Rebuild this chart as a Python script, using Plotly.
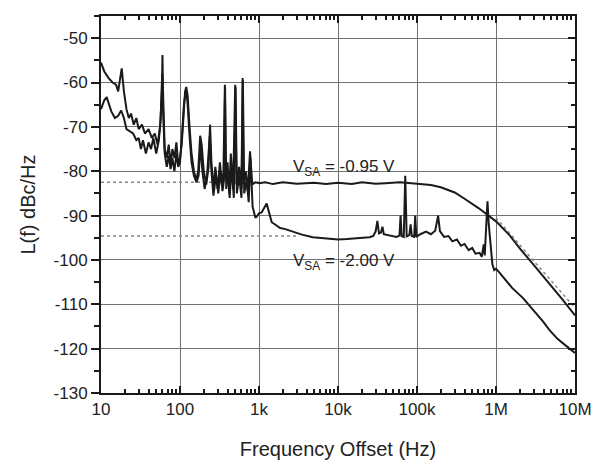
import plotly.graph_objects as go

# ---- data ----
f_a = [10, 11, 12.5, 14, 15.5, 16.5, 17.5, 18.3, 19.5, 21, 22.5, 24, 26, 28, 30, 33, 36, 40, 44, 48,
       52, 56, 59, 60, 61, 64, 68, 72, 76, 80, 85, 90, 95, 100, 105, 110, 116, 120, 125, 132,
       140, 150, 160, 170, 180, 188, 200, 215, 230, 240, 250, 265, 280, 300, 320, 340, 355, 370, 380, 400,
       420, 440, 470, 500, 520, 560, 600, 620, 640, 680, 720, 770, 820, 900, 1000,
       1200, 1500, 2000, 3000, 5000, 7000, 1e4, 1.5e4, 2e4, 3e4, 4e4, 6e4, 7.2e4, 1e5,
       1.5e5, 2e5, 3e5, 4e5, 5e5, 6e5, 7e5, 8e5, 9e5, 1e6, 1.5e6, 2e6, 3e6, 5e6, 7e6, 1e7]
L_a = [-55.5, -57.5, -59, -60, -60.5, -62, -59, -56.8, -62, -66, -68, -67, -69.5, -68, -70.5, -69.5, -71.5, -70.5, -72.5, -71.5,
       -74, -70, -62, -53.8, -62, -75, -77, -74, -78.5, -75, -77, -73.5, -78.5, -77, -74, -69, -62, -61, -63, -70,
       -76, -80, -82, -80, -72, -74, -80, -83, -79, -69.5, -78, -84, -79, -84, -78, -83, -80, -60.5, -82, -78,
       -85, -76, -84, -60.5, -83, -79, -84, -59, -83, -80, -84.5, -75.5, -83, -82.5, -82.7,
       -82.5, -82.9, -82.5, -82.8, -82.6, -82.9, -82.6, -82.9, -82.5, -82.8, -82.7, -82.5, -82.6, -82.8,
       -83.1, -83.6, -84.8, -86.2, -87.3, -88.3, -89.2, -90.0, -90.6, -91.3, -94.5, -97.4, -101.1, -105.8, -109.0, -112.5]

f_b = [10, 11, 11.8, 12.5, 13.5, 15, 16.5, 18, 19.5, 21, 23, 25.5, 28, 30, 32, 34, 37, 40, 43, 46,
       50, 54, 57, 59.5, 61, 64, 68, 72, 76, 80, 85, 90, 95, 100, 106, 112, 118, 124, 132, 140,
       150, 162, 172, 182, 192, 205, 220, 238, 250, 265, 285, 305, 325, 345, 360, 372, 385, 405, 425, 450,
       480, 505, 525, 560, 600, 625, 650, 700, 740, 780, 830, 900, 960, 1000, 1080, 1180, 1250, 1350, 1450, 1600,
       1850, 2100, 2450, 2900, 3500, 4800, 6000, 7900, 1e4, 1.3e4, 1.7e4, 2e4, 2.5e4, 2.8e4, 3e4, 3.15e4, 3.3e4, 3.5e4,
       3.65e4, 3.8e4, 4.5e4, 5.5e4, 6e4, 6.2e4, 6.4e4, 6.8e4, 7.1e4, 7.4e4, 8e4, 8.3e4, 8.6e4, 9.2e4, 9.5e4, 9.8e4,
       1.1e5, 1.3e5, 1.5e5, 1.7e5, 1.85e5, 1.95e5, 2.2e5, 2.5e5, 2.8e5, 3.2e5, 3.6e5, 4e5, 4.5e5, 5e5, 5.5e5, 6.2e5,
       6.6e5, 7e5, 7.2e5, 7.5e5, 7.8e5, 8.1e5, 8.5e5, 9e5, 9.5e5, 1e6, 1.1e6, 1.3e6, 1.6e6, 2.2e6, 3e6, 4e6, 4.7e6,
       6e6, 8e6, 1e7]
L_b = [-66, -64, -63.3, -64.5, -66.5, -68, -67.5, -66.3, -68, -70.5, -71, -71.5, -73, -72.5, -75, -73, -76, -73.5, -75, -72.5,
       -76, -73, -68, -58, -66, -76, -79, -76.5, -79.5, -77, -80, -76, -79, -78, -72, -65, -62, -64, -72, -78,
       -81, -82.5, -81, -74, -80, -84, -81, -72, -80, -85.5, -81, -85, -80, -84.5, -82, -61, -84, -80, -86, -79,
       -86, -61, -85, -81, -86, -59.5, -85, -82, -87, -77, -88, -90.5, -90, -89.5, -89.3, -88, -87.3, -89.5, -91.5, -92,
       -92.8, -93, -93.4, -93.8, -94.3, -94.9, -95.1, -95.2, -95.4, -95.3, -95.2, -95.1, -94.9, -94.6, -93.5, -91.2, -94, -93.8,
       -92.5, -94.2, -94.5, -94.8, -94.5, -90, -94.6, -94.8, -81, -94.7, -94.4, -92, -94.6, -94.8, -90, -94.8,
       -94.2, -93.6, -94.2, -93.4, -90, -93.5, -94.8, -94.6, -95.8, -95.4, -96.8, -96.4, -97.8, -97.3, -98.6, -98.4,
       -99.3, -96.5, -99, -93, -86.8, -92, -97, -101, -102.3, -102, -102.8, -104.3, -106.3, -108.6, -111.3, -114, -115.7,
       -117.8, -119.6, -121]

# dotted reference lines
ref_a_f = [10, 1000]
ref_a_L = [-82.5, -82.5]
ref_b_f = [10, 3000]
ref_b_L = [-94.6, -94.6]
ref_slope_f = [1e6, 1e7]
ref_slope_L = [-90.5, -110.8]

x_tickvals = [10, 100, 1e3, 1e4, 1e5, 1e6, 1e7]
x_ticktext = ["10", "100", "1k", "10k", "100k", "1M", "10M"]
y_tickvals = [-130, -120, -110, -100, -90, -80, -70, -60, -50]
y_ticktext = ["-130", "-120", "-110", "-100", "-90", "-80", "-70", "-60", "-50"]

label_a = "V<sub>SA</sub> = -0.95 V"
label_b = "V<sub>SA</sub> = -2.00 V"

FONT = "Liberation Sans, Arial, Helvetica, sans-serif"
INK = "#1a1a1a"
GRID = "#707070"

fig = go.Figure()
dot = dict(color="#888888", width=1.5, dash="dot")
fig.add_trace(go.Scatter(x=ref_a_f, y=ref_a_L, mode="lines", line=dot, showlegend=False))
fig.add_trace(go.Scatter(x=ref_b_f, y=ref_b_L, mode="lines", line=dot, showlegend=False))
fig.add_trace(go.Scatter(x=ref_slope_f, y=ref_slope_L, mode="lines", line=dot, showlegend=False))
fig.add_trace(go.Scatter(x=f_a, y=L_a, mode="lines", line=dict(color=INK, width=2), showlegend=False))
fig.add_trace(go.Scatter(x=f_b, y=L_b, mode="lines", line=dict(color=INK, width=2), showlegend=False))
# invisible trace to create right-side axis
fig.add_trace(go.Scatter(x=[10], y=[-130], xaxis="x", yaxis="y2", mode="markers",
                         marker=dict(opacity=0), showlegend=False, hoverinfo="skip"))

minor_x = [m * 10 ** d for d in range(1, 7) for m in range(2, 10)]

fig.update_layout(
    width=595, height=464,
    margin=dict(l=101, r=20, t=16, b=71),
    paper_bgcolor="white", plot_bgcolor="white",
    font=dict(family=FONT, color="#222", size=17),
    xaxis=dict(
        type="log", range=[1, 7], automargin=False,
        tickmode="array", tickvals=x_tickvals, ticktext=x_ticktext,
        ticks="inside", ticklen=7, tickwidth=1.5, tickcolor=INK,
        minor=dict(tickmode="array", tickvals=minor_x, ticks="inside", ticklen=4,
                   tickwidth=1.5, tickcolor=INK, showgrid=False),
        mirror="ticks", showline=True, linewidth=2, linecolor=INK,
        showgrid=True, gridcolor=GRID, gridwidth=1,
        zeroline=False,
        tickfont=dict(size=17),
        title=dict(text="Frequency Offset (Hz)", font=dict(size=20), standoff=24),
    ),
    yaxis=dict(
        range=[-130, -45], automargin=False,
        tickmode="array", tickvals=y_tickvals, ticktext=y_ticktext,
        ticks="outside", ticklen=8, tickwidth=1.5, tickcolor=INK,
        minor=dict(dtick=5, ticks="outside", ticklen=5, tickwidth=1.5, tickcolor=INK, showgrid=False),
        mirror=True, showline=True, linewidth=2, linecolor=INK,
        showgrid=True, gridcolor=GRID, gridwidth=1,
        zeroline=False,
        tickfont=dict(size=17),
        title=dict(text="L(f) dBc/Hz", font=dict(size=20), standoff=13),
    ),
    yaxis2=dict(
        overlaying="y", side="right", matches="y", range=[-130, -45], automargin=False,
        tickmode="array", tickvals=y_tickvals, showticklabels=False,
        ticks="inside", ticklen=7, tickwidth=1.5, tickcolor=INK,
        minor=dict(dtick=5, ticks="inside", ticklen=4, tickwidth=1.5, tickcolor=INK, showgrid=False),
        showgrid=False, zeroline=False, showline=False,
    ),
    annotations=[
        dict(x=3.405, y=-79.3, xref="x", yref="y", text=label_a, showarrow=False,
             xanchor="left", yanchor="middle", font=dict(size=17, color="#222")),
        dict(x=3.405, y=-100.4, xref="x", yref="y", text=label_b, showarrow=False,
             xanchor="left", yanchor="middle", font=dict(size=17, color="#222")),
    ],
)

fig.write_html("out.html")
